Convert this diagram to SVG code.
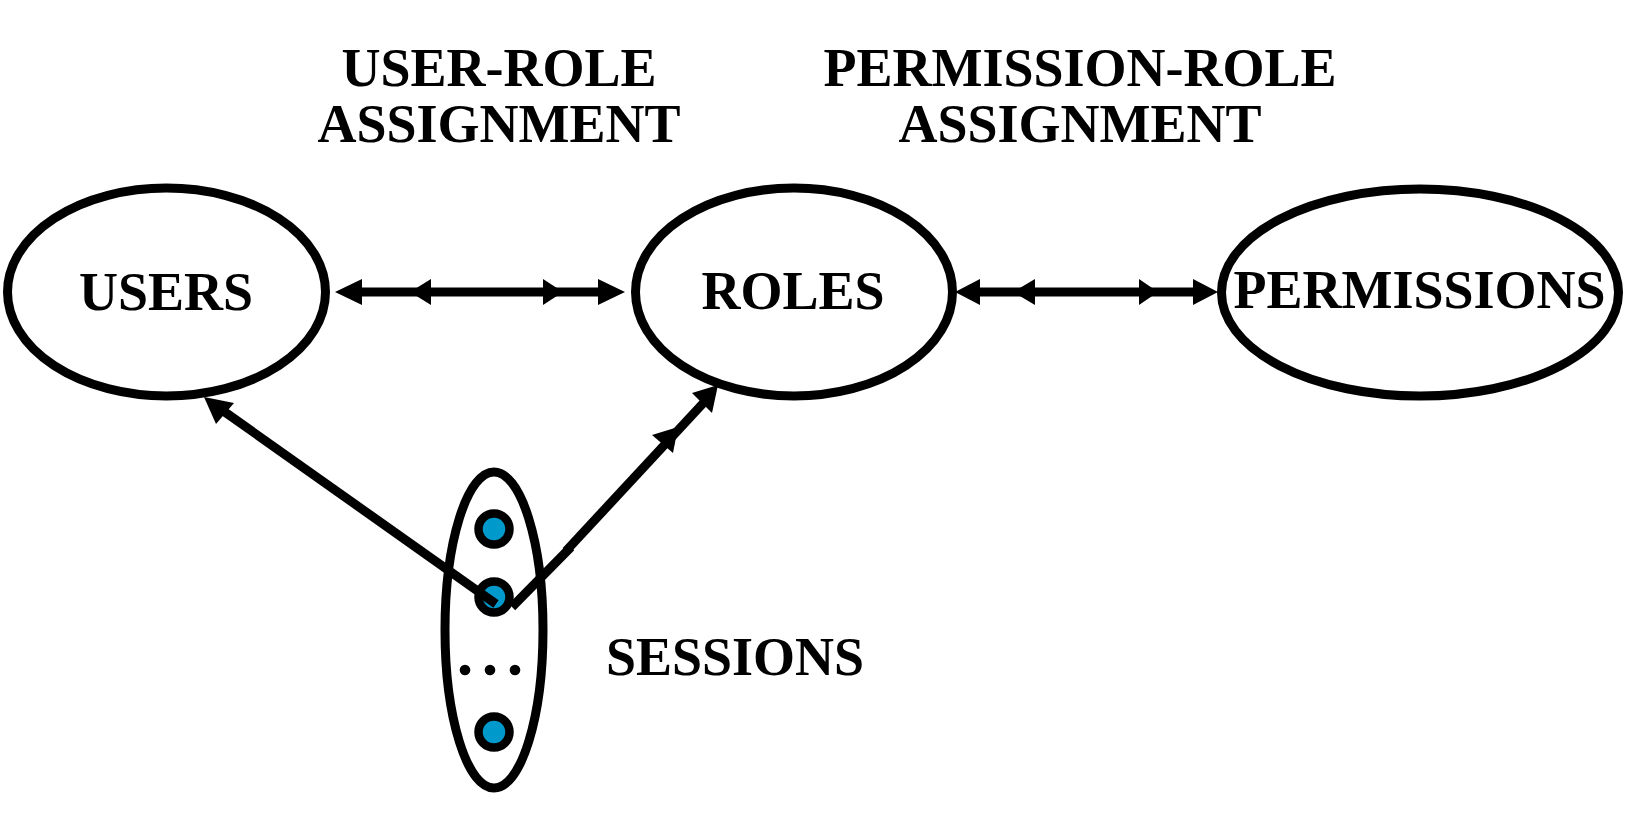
<svg xmlns="http://www.w3.org/2000/svg" width="1628" height="814" viewBox="0 0 1628 814">
<style>
.node{fill:none;stroke:#000;stroke-width:9}
.dot{fill:#0099cc;stroke:#000;stroke-width:8.5}
.lbl{font-family:"Liberation Serif","Times New Roman",serif;font-weight:bold;font-size:54px;fill:#000;text-anchor:middle}
.ln{fill:none;stroke:#000;stroke-width:9}
.ah{fill:#000;stroke:none}
</style>
<rect width="1628" height="814" fill="#fff"/>
<g id="title-user-role">
<text class="lbl" x="499" y="86">USER-ROLE</text>
<text class="lbl" x="499" y="142">ASSIGNMENT</text>
</g>
<g id="title-permission-role">
<text class="lbl" x="1080" y="86">PERMISSION-ROLE</text>
<text class="lbl" x="1080" y="142">ASSIGNMENT</text>
</g>
<g id="users">
<ellipse class="node" cx="166.5" cy="292" rx="159" ry="104"/>
<text class="lbl" x="166" y="310">USERS</text>
</g>
<g id="roles">
<ellipse class="node" cx="794" cy="292" rx="158.5" ry="104"/>
<text class="lbl" x="793" y="309">ROLES</text>
</g>
<g id="permissions">
<ellipse class="node" cx="1420" cy="292.5" rx="198.5" ry="103.5"/>
<text class="lbl" x="1419.5" y="308">PERMISSIONS</text>
</g>
<g id="sessions">
<ellipse class="node" cx="494" cy="630" rx="49" ry="158"/>
<circle class="dot" cx="494" cy="529" r="15.5"/>
<circle class="dot" cx="494" cy="597" r="15.5"/>
<circle class="dot" cx="494" cy="732" r="15.5"/>
<circle cx="465" cy="670" r="5.3" fill="#000"/>
<circle cx="490" cy="670" r="5.3" fill="#000"/>
<circle cx="515" cy="670" r="5.3" fill="#000"/>
<text class="lbl" x="735" y="675">SESSIONS</text>
</g>
<g id="connectors">
<line class="ln" x1="345" y1="292" x2="615" y2="292"/>
<polygon class="ah" points="335,292 362,279 362,305"/>
<polygon class="ah" points="410,292 431,279 431,305"/>
<polygon class="ah" points="563,292 543,279 543,305"/>
<polygon class="ah" points="625,292 598,279 598,305"/>
<line class="ln" x1="965" y1="292" x2="1208" y2="292"/>
<polygon class="ah" points="955,292 980,279 980,305"/>
<polygon class="ah" points="1013,292 1035,279 1035,305"/>
<polygon class="ah" points="1158,292 1139,279 1139,305"/>
<polygon class="ah" points="1218,292 1193,279 1193,305"/>
<line class="ln" x1="496" y1="604" x2="222" y2="410"/>
<polygon class="ah" points="204,397 216,424 234,403"/>
<line class="ln" x1="512" y1="607" x2="571" y2="547"/>
<line class="ln" x1="566" y1="551" x2="708" y2="398"/>
<polygon class="ah" points="678,427 652,435 673,453"/>
<polygon class="ah" points="718,385 692,393 712,413"/>
</g>
</svg>
